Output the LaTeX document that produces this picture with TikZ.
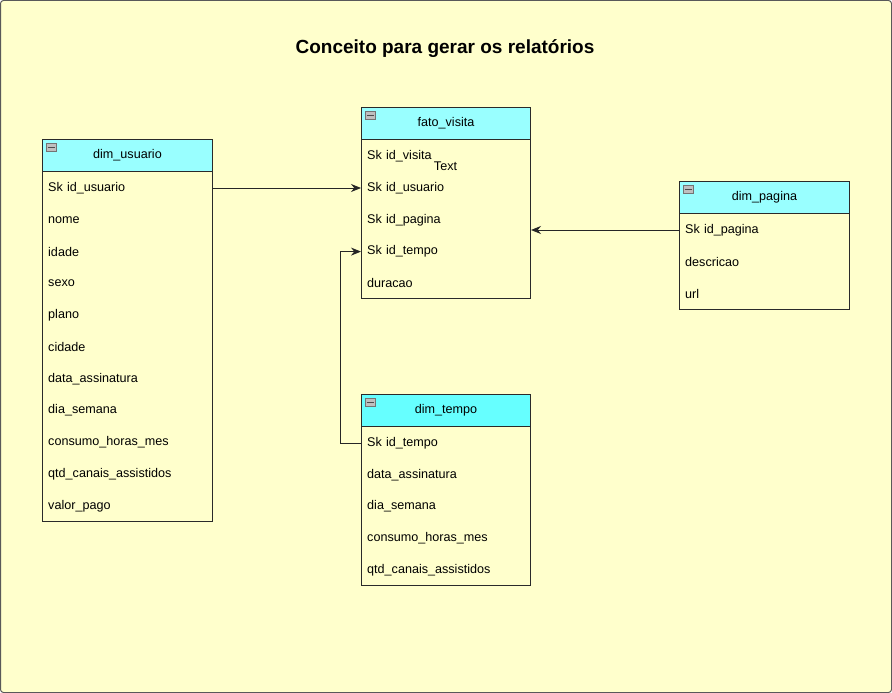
\documentclass[tikz,border=0pt]{standalone}
\usepackage{fontspec}
\setmainfont{Liberation Sans}
\usetikzlibrary{arrows.meta,calc}
\definecolor{bgyel}{HTML}{FFFFCC}
\definecolor{hdrcyan}{HTML}{99FFFF}
\definecolor{hdrcyanb}{HTML}{66FFFF}
\definecolor{edge}{HTML}{2A2A2A}
\tikzset{
  hdr/.style={draw=edge, line width=1pt, fill=hdrcyan, minimum width=#1, minimum height=32, anchor=north west, inner sep=0pt, font=\fontsize{12.6}{14}\selectfont},
  body/.style={draw=edge, line width=1pt, fill=bgyel, minimum width=#1, anchor=north west, inner sep=0pt},
  rowtxt/.style={anchor=west, minimum width=#1, text width=#1-12, inner xsep=6pt, inner ysep=0pt, minimum height=28, align=left, font=\fontsize{12.6}{14}\selectfont},
  conn/.style={line width=1pt, draw=black!85, -{Stealth[length=10pt,width=8pt]}},
}
\newcommand{\mkicon}[1]{%
  \draw[fill=black!25, draw=black!55, line width=0.5pt] ($(#1.north west)+(4,4)$) rectangle ++(10,8);
  \draw[black!70, line width=1pt] ($(#1.north west)+(5.5,8)$) -- ++(7,0);
}
\begin{document}
\begin{tikzpicture}[x=1pt, y=-1pt]
\useasboundingbox (0,0) rectangle (892,693);
\draw[fill=bgyel, draw=black!65, line width=1pt, rounded corners=3pt] (0.5,0.5) rectangle (891.5,692.5);

\node[font=\bfseries\fontsize{19}{22}\selectfont] (title) at (445,49) {Conceito para gerar os relatórios};

% dim_usuario
\node[body=170, minimum height=350] (ub) at (42,171) {};
\node[hdr=170] (uh) at (42,139) {dim\_usuario};
\mkicon{uh}
\node[rowtxt=170] (u1) at (42,188) {Sk id\_usuario};
\node[rowtxt=170] (u2) at (42,219.8) {nome};
\node[rowtxt=170] (u3) at (42,251.6) {idade};
\node[rowtxt=170] (u4) at (42,283.4) {sexo};
\node[rowtxt=170] (u5) at (42,315.2) {plano};
\node[rowtxt=170] (u6) at (42,347) {cidade};
\node[rowtxt=170] (u7) at (42,378.8) {data\_assinatura};
\node[rowtxt=170] (u8) at (42,410.6) {dia\_semana};
\node[rowtxt=170] (u9) at (42,442.4) {consumo\_horas\_mes};
\node[rowtxt=170] (u10) at (42,474.2) {qtd\_canais\_assistidos};
\node[rowtxt=170] (u11) at (42,506) {valor\_pago};

% fato_visita
\node[body=169, minimum height=159] (fb) at (361,139) {};
\node[hdr=169] (fh) at (361,107) {fato\_visita};
\mkicon{fh}
\node[rowtxt=169] (f1) at (361,156) {Sk id\_visita};
\node[rowtxt=169] (f2) at (361,188) {Sk id\_usuario};
\node[rowtxt=169] (f3) at (361,219.8) {Sk id\_pagina};
\node[rowtxt=169] (f4) at (361,251.6) {Sk id\_tempo};
\node[rowtxt=169] (f5) at (361,283.4) {duracao};
\node[font=\fontsize{12.6}{14}\selectfont, inner sep=0pt] (ftext) at (445.5,166) {Text};

% dim_pagina
\node[body=170, minimum height=96] (pb) at (679,213) {};
\node[hdr=170] (ph) at (679,181) {dim\_pagina};
\mkicon{ph}
\node[rowtxt=170] (p1) at (679,230) {Sk id\_pagina};
\node[rowtxt=170] (p2) at (679,262) {descricao};
\node[rowtxt=170] (p3) at (679,294) {url};

% dim_tempo
\node[body=169, minimum height=159] (tb) at (361,426) {};
\node[hdr=169, fill=hdrcyanb] (th) at (361,394) {dim\_tempo};
\mkicon{th}
\node[rowtxt=169] (t1) at (361,443) {Sk id\_tempo};
\node[rowtxt=169] (t2) at (361,474.8) {data\_assinatura};
\node[rowtxt=169] (t3) at (361,506.6) {dia\_semana};
\node[rowtxt=169] (t4) at (361,538.4) {consumo\_horas\_mes};
\node[rowtxt=169] (t5) at (361,570.2) {qtd\_canais\_assistidos};

% connectors
\draw[conn] (u1.east) -- (f2.west);
\draw[conn] (p1.west) -- (p1.west -| fb.east);
\draw[conn] (t1.west) -- ++(-21,0) |- (f4.west);
\end{tikzpicture}
\end{document}
